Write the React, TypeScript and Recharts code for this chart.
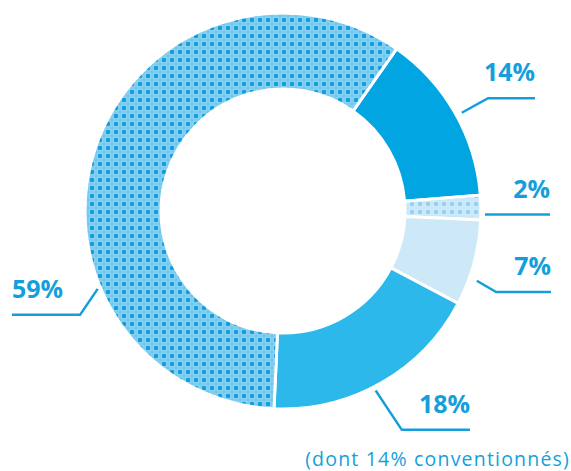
import React from "react";
import { PieChart, Pie, Cell } from "recharts";

const categories = ["A", "B", "C", "D", "E"];
const values = [14, 2, 7, 18, 59];
const valueLabels = ["14%", "2%", "7%", "18%", "59%"];
const notes = ["", "", "", "(dont 14% conventionnés)", ""];
const fills = ["#00a5e1", "url(#patLight)", "#cde9f8", "#2cb8ea", "url(#patDark)"];

const data = categories.map((name, i) => ({ name, value: values[i], label: valueLabels[i], note: notes[i] }));

// leader-line layout: angle offsets in degrees (clockwise), radii and horizontal end offset from center
const labelLayout = [
  { sOff: 1, sR: 204, eOff: 1, eR: 234, endX: 252 },
  { sOff: 2, sR: 202, eOff: 2, eR: 202, endX: 267 },
  { sOff: 4.6, sR: 206, eOff: 5.6, eR: 228, endX: 268 },
  { sOff: 2.5, sR: 202, eOff: 1.3, eR: 249, endX: 187 },
  { sOff: -41.6, sR: 201, eOff: -45.9, eR: 228, endX: -271 },
];

const BLUE = "#149fdc";
const RAD = Math.PI / 180;

const pt = (cx: number, cy: number, clock: number, r: number) => ({
  x: cx + r * Math.sin(clock * RAD),
  y: cy - r * Math.cos(clock * RAD),
});

const renderLabel = (props: any) => {
  const { cx, cy, midAngle, index, payload } = props;
  const L = labelLayout[index];
  const clock = 90 - midAngle;
  const s = pt(cx, cy, clock + L.sOff, L.sR);
  const e = pt(cx, cy, clock + L.eOff, L.eR);
  const endX = cx + L.endX;
  const right = L.endX > 0;
  const lbl = payload?.label ?? valueLabels[index];
  const note = payload?.note ?? notes[index];
  return (
    <g key={`lbl-${index}`}>
      <polyline
        points={`${s.x},${s.y} ${e.x},${e.y} ${endX},${e.y}`}
        fill="none"
        stroke={BLUE}
        strokeWidth={2.5}
      />
      <text
        x={endX}
        y={e.y - 17}
        textAnchor={right ? "end" : "start"}
        fill={BLUE}
        fontFamily="'Open Sans', sans-serif"
        fontWeight={700}
        fontSize={25}
      >
        {lbl}
      </text>
      {note ? (
        <text
          x={endX + 100}
          y={e.y + 36}
          textAnchor="end"
          fill={BLUE}
          fontFamily="'Open Sans', sans-serif"
          fontSize={19.5}
          letterSpacing={1.2}
        >
          {note}
        </text>
      ) : null}
    </g>
  );
};

export default function App() {
  return (
    <div style={{ position: "absolute", left: 0, top: 0, width: 571, height: 471, background: "#fff" }}>
      <svg width={0} height={0} style={{ position: "absolute" }}>
        <defs>
          <pattern id="patDark" width={8} height={8} patternUnits="userSpaceOnUse">
            <rect width={8} height={8} fill="#45b5e8" />
            <rect x={1} y={1} width={6} height={6} fill="none" stroke="#a6ddf6" strokeWidth={1.2} />
            <rect x={2.3} y={2.3} width={3.4} height={3.4} fill="#0a9bdb" />
          </pattern>
          <pattern id="patLight" width={8} height={8} patternUnits="userSpaceOnUse">
            <rect width={8} height={8} fill="#b3dff5" />
            <rect x={1} y={1} width={6} height={6} fill="none" stroke="#dbf0fb" strokeWidth={1.2} />
            <rect x={2.3} y={2.3} width={3.4} height={3.4} fill="#8dcff0" />
          </pattern>
        </defs>
      </svg>
      <PieChart width={571} height={471}>
        <Pie
          data={data}
          dataKey="value"
          nameKey="name"
          cx={278}
          cy={206}
          innerRadius={122}
          outerRadius={198}
          startAngle={55}
          endAngle={-305}
          stroke="#ffffff"
          strokeWidth={3}
          label={renderLabel}
          labelLine={false}
          isAnimationActive={false}
        >
          {data.map((d, i) => (
            <Cell key={d.name} fill={fills[i]} />
          ))}
        </Pie>
      </PieChart>
    </div>
  );
}
